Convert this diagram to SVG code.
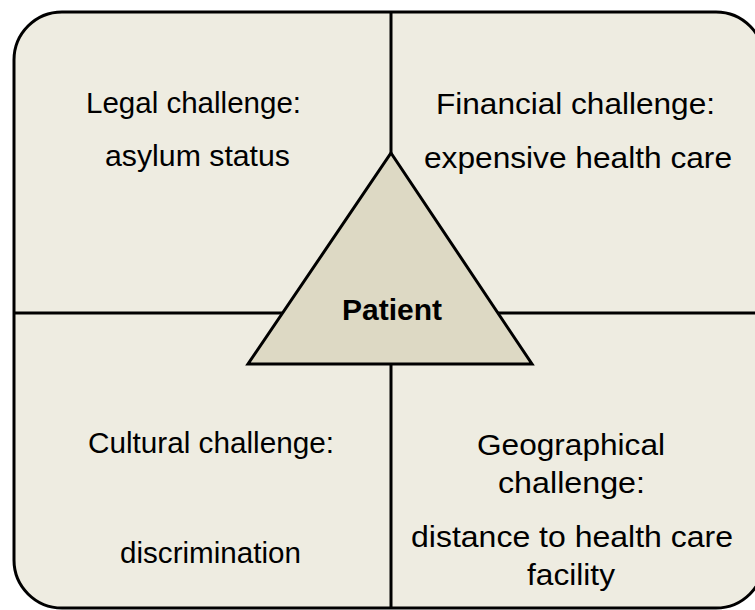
<svg xmlns="http://www.w3.org/2000/svg" width="755" height="610" viewBox="0 0 755 610">
<style>
.frame{fill:#EEECE1;stroke:#000;stroke-width:3}
.div{stroke:#000;stroke-width:3;fill:none}
.tri{fill:#DDD9C4;stroke:#000;stroke-width:3;stroke-linejoin:miter}
.t{font-family:"Liberation Sans",Arial,sans-serif;font-size:29px;fill:#000;text-anchor:middle}
.b{font-weight:bold;font-size:30px}
</style>
<rect width="755" height="610" fill="#fff"/>
<g id="frame"><rect class="frame" x="14" y="12" width="750" height="596" rx="48" ry="48"/></g>
<g id="connectors">
<line class="div" x1="391" y1="12" x2="391" y2="608"/>
<line class="div" x1="14" y1="313" x2="764" y2="313"/>
</g>
<g id="legal">
<text class="t" x="193.5" y="113" textLength="215" lengthAdjust="spacingAndGlyphs">Legal challenge:</text>
<text class="t" x="197.5" y="166" textLength="185" lengthAdjust="spacingAndGlyphs">asylum status</text>
</g>
<g id="financial">
<text class="t" x="575.5" y="114" textLength="279" lengthAdjust="spacingAndGlyphs">Financial challenge:</text>
<text class="t" x="578" y="168" textLength="308" lengthAdjust="spacingAndGlyphs">expensive health care</text>
</g>
<g id="cultural">
<text class="t" x="211" y="453" textLength="246" lengthAdjust="spacingAndGlyphs">Cultural challenge:</text>
<text class="t" x="210.5" y="563" textLength="181" lengthAdjust="spacingAndGlyphs">discrimination</text>
</g>
<g id="geographical">
<text class="t" x="571" y="455" textLength="188" lengthAdjust="spacingAndGlyphs">Geographical</text>
<text class="t" x="571.5" y="493" textLength="147" lengthAdjust="spacingAndGlyphs">challenge:</text>
<text class="t" x="572" y="547" textLength="322" lengthAdjust="spacingAndGlyphs">distance to health care</text>
<text class="t" x="571" y="585" textLength="88" lengthAdjust="spacingAndGlyphs">facility</text>
</g>
<g id="patient">
<polygon class="tri" points="391,153 532,364 248,364"/>
<text class="t b" x="392" y="320">Patient</text>
</g>
</svg>
